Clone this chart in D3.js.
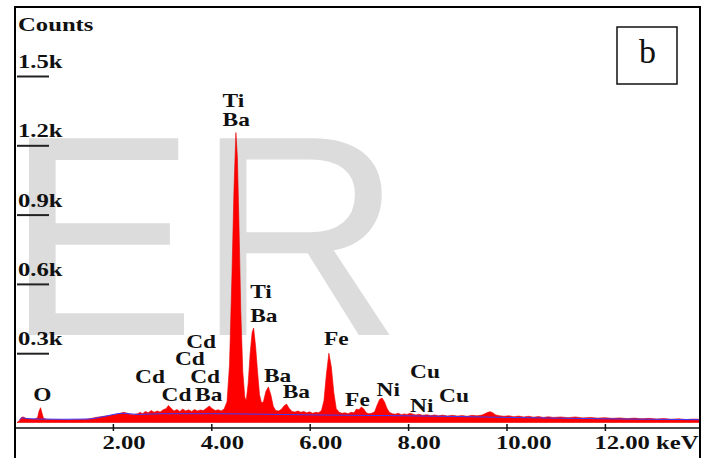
<!DOCTYPE html>
<html>
<head>
<meta charset="utf-8">
<script src="https://cdn.jsdelivr.net/npm/d3@7"></script>
<style>
  body { margin: 0; background: #fff; }
  svg { display: block; }
</style>
</head>
<body>
<div class="svg-container"></div>
<script>
// EDS spectrum, energy (keV) vs counts
var spectrum = [
  [0.05,0],[0.10,8],[0.14,22],[0.18,24],[0.22,19],[0.28,16],[0.35,15],[0.42,15],[0.47,22],[0.50,50],
  [0.53,64],[0.56,40],[0.59,18],[0.65,14],[0.75,13],[0.9,13],[1.1,12],[1.3,13],[1.45,14],[1.55,17],
  [1.65,22],[1.75,25],[1.85,28],[1.95,31],[2.05,35],[2.15,40],[2.22,44],[2.28,41],[2.35,36],[2.42,34],
  [2.5,38],[2.56,44],[2.6,38],[2.66,48],[2.72,42],[2.78,52],[2.84,44],[2.9,50],[2.96,45],[3.02,55],
  [3.08,60],[3.13,74],[3.18,62],[3.24,50],[3.3,56],[3.36,48],[3.42,58],[3.48,50],[3.54,55],[3.6,48],
  [3.66,56],[3.72,50],[3.78,54],[3.84,52],[3.9,62],[3.96,71],[4.02,60],[4.08,52],[4.14,55],[4.2,50],
  [4.26,58],[4.32,90],[4.37,250],[4.42,640],[4.46,1000],[4.5,1255],[4.53,1150],[4.56,880],[4.6,480],[4.64,220],
  [4.68,110],[4.71,95],[4.75,170],[4.79,300],[4.83,390],[4.86,409],[4.9,330],[4.94,220],[4.98,120],[5.02,85],
  [5.06,90],[5.11,135],[5.16,154],[5.21,120],[5.26,70],[5.31,52],[5.37,50],[5.42,56],[5.48,72],[5.53,80],
  [5.58,62],[5.64,48],[5.7,45],[5.76,50],[5.82,44],[5.88,48],[5.94,42],[6.0,46],[6.06,40],[6.12,44],
  [6.18,42],[6.24,52],[6.29,95],[6.34,210],[6.39,300],[6.44,240],[6.49,130],[6.54,60],[6.6,44],[6.66,40],
  [6.72,42],[6.78,38],[6.84,44],[6.9,42],[6.95,58],[7.0,55],[7.05,67],[7.1,58],[7.15,42],[7.2,38],
  [7.26,40],[7.32,46],[7.37,75],[7.42,100],[7.47,106],[7.52,90],[7.57,62],[7.62,44],[7.68,38],[7.74,36],
  [7.8,40],[7.86,34],[7.92,37],[7.98,35],[8.04,40],[8.1,36],[8.16,33],[8.22,36],[8.3,31],[8.38,34],
  [8.46,30],[8.54,33],[8.62,29],[8.7,32],[8.8,28],[8.9,31],[9.0,28],[9.1,30],[9.2,27],[9.3,31],
  [9.4,29],[9.5,32],[9.56,38],[9.62,44],[9.67,47],[9.72,42],[9.78,33],[9.86,29],[9.95,27],[10.05,29],
  [10.15,25],[10.25,28],[10.35,24],[10.45,27],[10.55,23],[10.65,26],[10.75,22],[10.85,25],[10.95,22],[11.1,24],
  [11.25,21],[11.4,24],[11.55,20],[11.7,22],[11.85,19],[12.0,21],[12.15,18],[12.3,20],[12.45,17],[12.6,19],
  [12.75,16],[12.9,18],[13.05,15],[13.2,17],[13.35,14],[13.5,16],[13.65,13],[13.8,15],[13.95,14]
];

// fitted background (blue line)
var background = [
  [0.1,10],[0.15,20],[0.25,17],[0.5,15],[1.0,14],[1.5,15],[1.8,25],[2.2,40],[2.5,35],[3.0,38],
  [4.0,38],[5.0,36],[6.0,33],[7.0,31],[8.0,29],[9.0,26],[10.0,22],[11.0,19],[12.0,16],[13.0,14],[13.95,12]
];

// peak labels: text, keV (left edge), counts (baseline)
var peakLabels = [
  ["O",0.38,94],["Cd",2.45,171],["Cd",2.99,93],["Ba",3.67,93],["Cd",3.57,171],["Cd",3.26,249],
  ["Cd",3.49,322],["Ti",4.23,1367],["Ba",4.23,1284],["Ti",4.79,539],["Ba",4.79,436],["Ba",5.07,177],
  ["Ba",5.45,106],["Fe",6.29,335],["Fe",6.72,71],["Ni",7.36,115],["Ni",8.04,47],["Cu",8.04,193],["Cu",8.63,90]
];

var xTicks = [2, 4, 6, 8, 10, 12];
var xTickLabels = ["2.00", "4.00", "6.00", "8.00", "10.00", "12.00 keV"];
var yTicks = [300, 600, 900, 1200, 1500];
var yTickLabels = ["0.3k", "0.6k", "0.9k", "1.2k", "1.5k"];

var width = 710, height = 458;
var serif = "'Liberation Serif','Times New Roman',serif";
var stretch = 1.3; // text in the picture is widened

var svg = d3.select('.svg-container').append('svg')
    .attr('width', width).attr('height', height);

var x = d3.scaleLinear().domain([0, 14]).range([14.5, 703.3]);
var y = d3.scaleLinear().domain([0, 1500]).range([422.5, 76]);

svg.append('defs').append('clipPath').attr('id', 'plotclip')
  .append('rect').attr('x', 16).attr('y', 8).attr('width', 684).attr('height', 420);

// watermark
svg.append('text')
  .attr('x', 5.5).attr('y', 335)
  .attr('font-family', "'Liberation Sans',Arial,sans-serif")
  .attr('font-size', 286)
  .attr('fill', '#dcdcdc')
  .text('ER');

function wideText(g, txt, px, py, size) {
  return g.append('text')
    .attr('transform', 'translate(' + px + ',' + py + ') scale(' + stretch + ',1)')
    .attr('font-family', serif)
    .attr('font-weight', 'bold')
    .attr('font-size', size)
    .attr('fill', '#111')
    .text(txt);
}

var plot = svg.append('g').attr('clip-path', 'url(#plotclip)');

var area = d3.area()
    .x(function(d){ return x(d[0]); })
    .y0(y(0))
    .y1(function(d){ return y(d[1]); });

plot.append('path')
  .datum(spectrum)
  .attr('d', area)
  .attr('fill', '#ff0000')
  .attr('stroke', '#e80000')
  .attr('stroke-width', 0.6);

var line = d3.line()
    .x(function(d){ return x(d[0]); })
    .y(function(d){ return y(d[1]); })
    .curve(d3.curveMonotoneX);

plot.append('path')
  .datum(background)
  .attr('d', line)
  .attr('fill', 'none')
  .attr('stroke', '#3a3aff')
  .attr('stroke-width', 1);

// y ticks: short lines under the labels
var yAxis = svg.append('g')
  .attr('transform', 'translate(17,0)')
  .call(d3.axisRight(y).tickValues(yTicks).tickSize(32).tickFormat(''));
yAxis.select('.domain').remove();
yAxis.selectAll('line').attr('stroke', '#222').attr('stroke-width', 2);

yTicks.forEach(function(v, i){
  wideText(svg, yTickLabels[i], 18, y(v) - 8, 19);
});
wideText(svg, 'Counts', 18, 31, 19);

// x axis
svg.append('line')
  .attr('x1', 15).attr('x2', 700).attr('y1', 428).attr('y2', 428)
  .attr('stroke', '#111').attr('stroke-width', 1.5);
var xAxis = svg.append('g')
  .attr('transform', 'translate(0,424)')
  .call(d3.axisBottom(x).tickValues(xTicks).tickSize(7).tickFormat(''));
xAxis.select('.domain').remove();
xAxis.selectAll('line').attr('stroke', '#111').attr('stroke-width', 1.5);

xTicks.forEach(function(v, i){
  wideText(svg, xTickLabels[i], x(v) - 10.5, 449, 19);
});

// peak labels
peakLabels.forEach(function(p){
  wideText(svg, p[0], x(p[1]), y(p[2]), 18);
});

// frame
svg.append('path')
  .attr('d', 'M15,458 V7 H700 V458')
  .attr('fill', 'none').attr('stroke', '#000').attr('stroke-width', 2);

// panel letter box
svg.append('rect')
  .attr('x', 617).attr('y', 27).attr('width', 60).attr('height', 57)
  .attr('fill', '#fff').attr('stroke', '#111').attr('stroke-width', 1.5);
svg.append('text')
  .attr('x', 647.5).attr('y', 63)
  .attr('text-anchor', 'middle')
  .attr('font-family', serif)
  .attr('font-size', 34)
  .attr('fill', '#111')
  .text('b');
</script>
</body>
</html>
